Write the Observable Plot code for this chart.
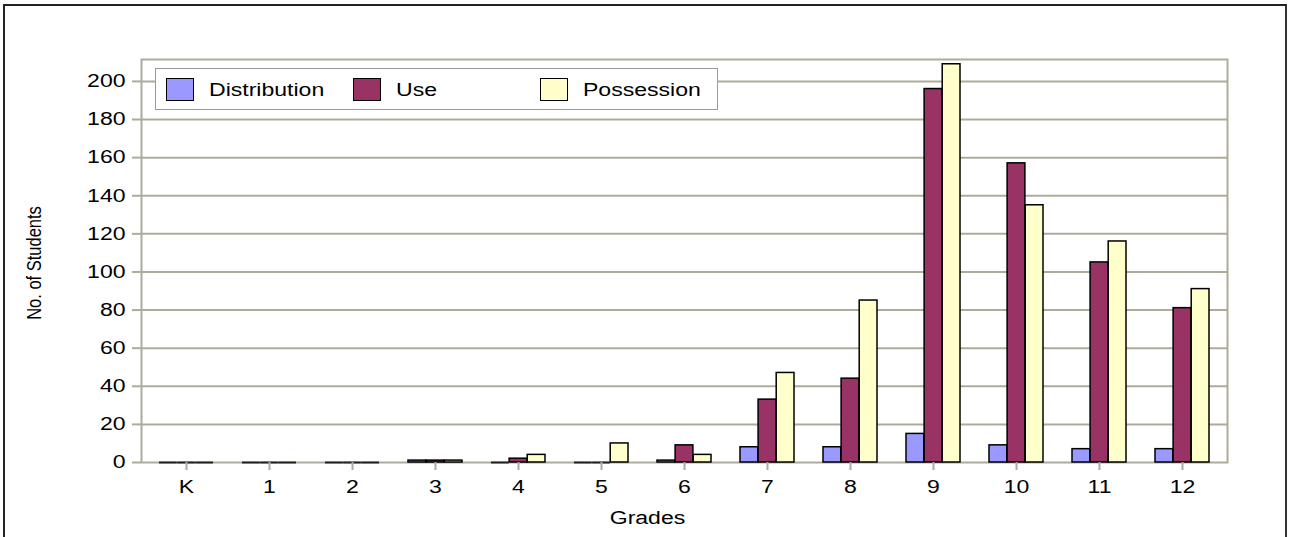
<!DOCTYPE html>
<html><head><meta charset="utf-8">
<script src="https://cdn.jsdelivr.net/npm/d3@7"></script>
<script src="https://cdn.jsdelivr.net/npm/@observablehq/plot@0.6"></script>
<style>
html,body{margin:0;padding:0;background:#fff;}
#wrap{position:relative;width:1289px;height:537px;overflow:hidden;font-family:"Liberation Sans",Arial,sans-serif;}
#chart{position:absolute;left:0;top:0;}
#frame{position:absolute;left:3px;top:4px;width:1280px;height:600px;border-left:2px solid #222;border-top:2px solid #222;border-right:2px solid #333;}
#legend{position:absolute;left:155px;top:68px;width:563px;height:42px;border:1.5px solid #9a9a9a;background:#fff;box-sizing:border-box;}
.sw{position:absolute;top:9px;width:28px;height:23px;border:1.5px solid #000;box-sizing:border-box;}
.lt{position:absolute;top:10px;font-size:18px;line-height:23px;color:#000;transform:scaleX(1.28);transform-origin:left center;white-space:nowrap;}
</style></head>
<body>
<div id="wrap"><div id="chart"></div><div id="frame"></div><div id="legend"></div></div>
<script>
const grades = ["K","1","2","3","4","5","6","7","8","9","10","11","12"];
const seriesNames = ["Distribution","Use","Possession"];
const distribution = [0,0,0,1,0,0,1,8,8,15,9,7,7];
const use =          [0,0,0,1,2,0,9,33,44,196,157,105,81];
const possession =   [0,0,0,1,4,10,4,47,85,209,135,116,91];
const yTicks = [0,20,40,60,80,100,120,140,160,180,200];
const colors = ["#9999ff","#993366","#ffffcc"];

const W = 1289, H = 537, ML = 141, MR = 62, MT = 59, MB = 75;
const valuesBySeries = [distribution, use, possession];
const rows = seriesNames.flatMap((s, i) => grades.map((g, j) => ({grade: g, series: s, si: i, value: valuesBySeries[i][j]})));
const padIn = 0.35;
const step = (W - ML - MR) / grades.length;
const sub = step * (1 - padIn) / seriesNames.length;
const tan = "#aeab9c";

const plot = Plot.plot({
  width: W, height: H,
  marginLeft: ML, marginRight: MR, marginTop: MT, marginBottom: MB,
  style: {fontFamily: "Liberation Sans, Arial, sans-serif", fontSize: "18px", background: "transparent", color: "#000"},
  x: {domain: grades, paddingInner: padIn, paddingOuter: padIn / 2},
  y: {domain: [0, 211.5]},
  marks: [
    Plot.ruleY(yTicks.filter(d => d > 0), {stroke: tan, strokeWidth: 2}),
    Plot.frame({stroke: tan, strokeWidth: 2}),
    ...seriesNames.map((s, i) => Plot.barY(rows.filter(r => r.si === i && r.value > 0), {
      x: "grade", y: "value", fill: colors[i], stroke: "#000", strokeWidth: 1.5,
      insetLeft: i * sub, insetRight: (seriesNames.length - 1 - i) * sub
    })),
    ...seriesNames.map((s, i) => Plot.tickY(rows.filter(r => r.si === i && r.value === 0), {
      x: "grade", y: "value", stroke: "#222", strokeWidth: 2,
      insetLeft: i * sub, insetRight: (seriesNames.length - 1 - i) * sub
    })),
    Plot.axisY({ticks: yTicks, tickSize: 9, tickPadding: 7, stroke: tan, strokeWidth: 2, label: null}),
    Plot.axisX({tickSize: 8, tickPadding: 10, stroke: tan, strokeWidth: 2, label: null}),
    Plot.text(["No. of Students"], {frameAnchor: "left", textAnchor: "middle", lineAnchor: "middle", dx: -107, dy: 2, rotate: -90, fontSize: 16.5}),
    Plot.text(["Grades"], {frameAnchor: "bottom", textAnchor: "middle", lineAnchor: "middle", dx: -37, dy: 56, fontSize: 18})
  ]
});
plot.querySelectorAll("text").forEach(t => {
  const tr = t.getAttribute("transform") || "";
  t.setAttribute("transform", tr + (/rotate/.test(tr) ? " scale(1,1.28)" : " scale(1.28,1)"));
});
document.getElementById("chart").appendChild(plot);

const legend = document.getElementById("legend");
seriesNames.forEach((s, i) => {
  const sw = document.createElement("div");
  sw.className = "sw";
  sw.style.left = (10 + i * 187) + "px";
  sw.style.background = colors[i];
  legend.appendChild(sw);
  const lt = document.createElement("div");
  lt.className = "lt";
  lt.style.left = (53 + i * 187) + "px";
  lt.textContent = s;
  legend.appendChild(lt);
});
</script>
</body></html>
